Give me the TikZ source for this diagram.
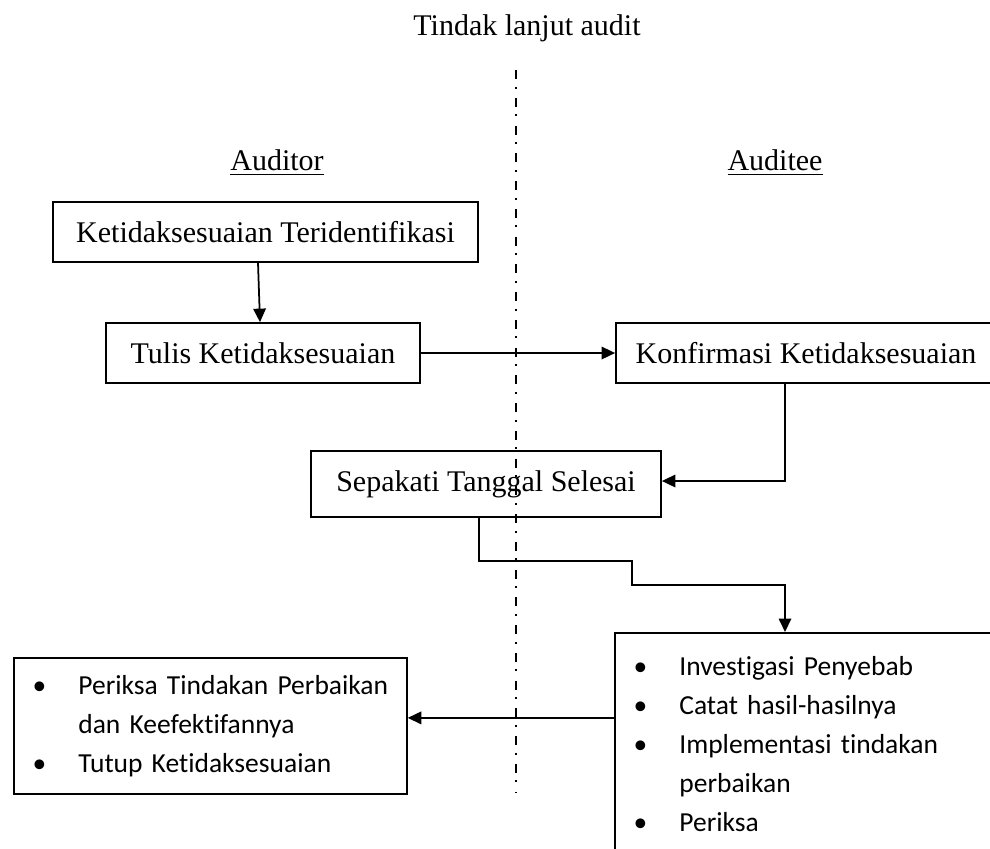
\documentclass[tikz,border=0pt]{standalone}
\usepackage{fontspec}
\setmainfont{Liberation Serif}
\setsansfont{Carlito}[Ligatures=NoCommon]
\usetikzlibrary{arrows.meta}
\newcommand{\itm}[1]{\makebox[20.4pt][c]{\textbullet}\hspace{5.4pt}\mbox{#1}}
\newcommand{\ind}[1]{\hspace*{25.8pt}\mbox{#1}}

\begin{document}
\begin{tikzpicture}[x=0.4pt,y=-0.4pt,
  box/.style={draw,line width=0.7pt,inner sep=0pt,font=\fontsize{12}{14.4}\selectfont},
  listbox/.style={draw,line width=0.7pt,inner sep=0pt,align=left,anchor=north west,
    font=\sffamily\fontsize{11}{15.6}\selectfont},
  lbl/.style={font=\fontsize{12}{14.4}\selectfont},
  arr/.style={line width=0.7pt,-{Triangle[length=5.4pt,width=5pt]}}]
\useasboundingbox (0,0) rectangle (990,848);
\node[lbl] (judul) at (527,28) {Tindak lanjut audit};
\node[lbl] (auditor) at (277,163) {\underline{Auditor}};
\node[lbl] (auditee) at (775,163) {\underline{Auditee}};
\draw[line width=0.7pt,dash pattern=on 3.6pt off 3pt on 0.8pt off 3.7pt] (516,70) -- (516,793);
\node[box,minimum width=170pt,minimum height=24pt] (identif) at (265.5,232) {Ketidaksesuaian Teridentifikasi};
\node[box,minimum width=125.6pt,minimum height=24pt] (tulis) at (263,353) {Tulis Ketidaksesuaian};
\node[box,minimum width=152pt,minimum height=24pt] (konfirm) at (806,353) {Konfirmasi Ketidaksesuaian};
\node[box,minimum width=140pt,minimum height=26.4pt] (sepakat) at (486,484) {Sepakati Tanggal Selesai};
\node[listbox,text width=160pt,minimum height=89.2pt] (perbaik) at (614,632) {%
\itm{Investigasi Penyebab}\\
\itm{Catat hasil-hasilnya}\\
\itm{Implementasi tindakan}\\
\ind{perbaikan}\\
\itm{Periksa}};
\node[listbox,text width=157.2pt,minimum height=54.4pt] (periksa) at (13,657) {%
\itm{Periksa Tindakan Perbaikan}\\
\ind{dan Keefektifannya}\\
\itm{Tutup Ketidaksesuaian}};
\coordinate (belok) at (785,585);
\coordinate (kiri) at ([yshift=3.2pt]periksa.east);
\draw[arr] ([xshift=-3pt]identif.south) -- ([xshift=-1.2pt]tulis.north);
\draw[arr] (tulis) -- (konfirm);
\draw[arr] ([xshift=-8.4pt]konfirm.south) |- ([yshift=1.2pt]sepakat.east);
\draw[arr] ([xshift=-2.8pt]sepakat.south) |- (632,561) |- (belok) -- (belok |- perbaik.north);
\draw[arr] (kiri -| perbaik.west) -- (kiri);
\end{tikzpicture}
\end{document}
